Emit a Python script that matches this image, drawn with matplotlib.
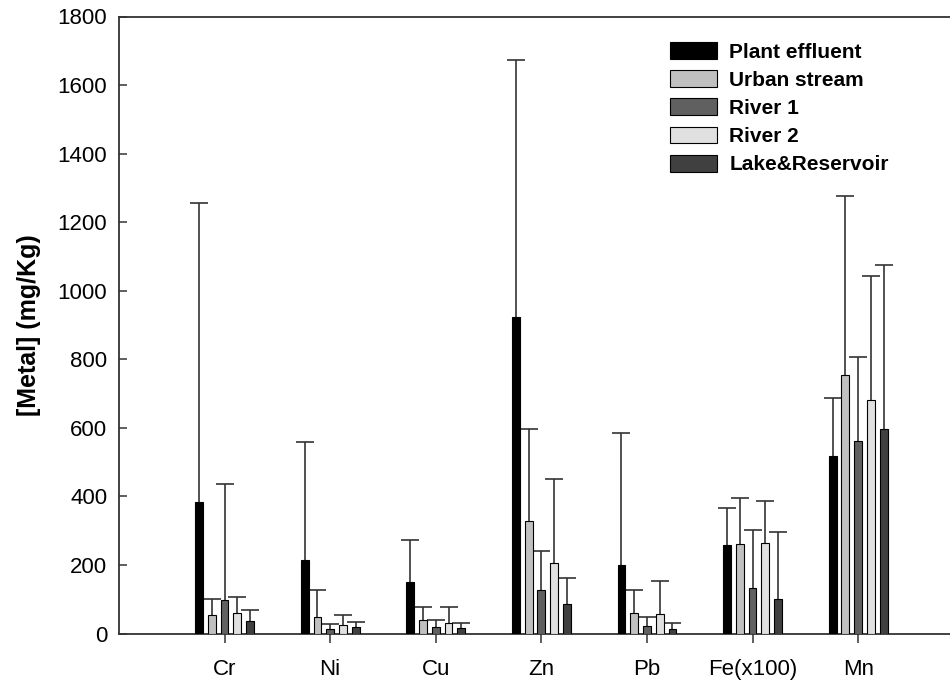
import numpy as np
import matplotlib
matplotlib.use("Agg")
import matplotlib.pyplot as plt

plt.rcParams['font.family'] = ['Liberation Sans', 'DejaVu Sans']

metals = ["Cr", "Ni", "Cu", "Zn", "Pb", "Fe(x100)", "Mn"]
sites = ["Plant effluent", "Urban stream", "River 1", "River 2", "Lake&Reservoir"]

# mean concentrations (mg/Kg) per site, in metal order
plant_mean = [385, 215, 150, 923, 200, 258, 518]
urban_mean = [53, 48, 39, 327, 59, 261, 753]
river1_mean = [97, 13, 20, 127, 21, 132, 561]
river2_mean = [59, 25, 32, 206, 56, 263, 681]
lake_mean = [37, 18, 17, 86, 14, 102, 597]

# standard deviations (upper error bars)
plant_sd = [870, 344, 123, 749, 386, 107, 168]
urban_sd = [47, 78, 37, 270, 68, 133, 522]
river1_sd = [338, 14, 18, 115, 27, 170, 245]
river2_sd = [48, 28, 44, 244, 96, 124, 361]
lake_sd = [33, 17, 14, 76, 18, 193, 479]

means = [plant_mean, urban_mean, river1_mean, river2_mean, lake_mean]
sds = [plant_sd, urban_sd, river1_sd, river2_sd, lake_sd]
colors = ["#000000", "#c0c0c0", "#606060", "#e0e0e0", "#404040"]

fig = plt.figure(figsize=(9.5, 6.84), dpi=100)
ax = fig.add_axes([119 / 950, 50.5 / 684, 831 / 950, 617 / 684])

x = np.arange(1, len(metals) + 1)
step = 0.1206
width = 0.074
for i, (m, s, c) in enumerate(zip(means, sds, colors)):
    pos = x + (i - 2) * step
    ax.bar(pos, m, width=width, color=c, edgecolor="#000000", linewidth=0.8,
           label=sites[i], zorder=3)
    eb = ax.errorbar(pos, m, yerr=[np.zeros(len(s)), s], fmt="none",
                     ecolor="#333333", elinewidth=1.2, capsize=6.5,
                     capthick=1.2, zorder=2)
    # keep only the upper cap of each one-sided error bar
    eb[1][0].remove()

ax.set_xlim(0, 7.87)
ax.set_ylim(0, 1800)
ax.set_yticks(np.arange(0, 1801, 200))
ax.set_xticks(x)
ax.set_xticklabels(metals)

ax.spines["right"].set_visible(False)
for sp in ["left", "bottom", "top"]:
    ax.spines[sp].set_linewidth(1.3)
    ax.spines[sp].set_color("#333333")

ax.tick_params(axis="y", direction="in", length=6, width=1.1, color="#333333",
               labelsize=16, pad=8.5)
ax.tick_params(axis="x", direction="out", length=6.5, width=1.1, color="#333333",
               labelsize=16, pad=12)

ax.set_ylabel("[Metal] (mg/Kg)", fontsize=18, fontweight="bold", labelpad=12)

leg = ax.legend(loc="upper left", bbox_to_anchor=(670 / 950, 1 - 42 / 684),
                bbox_transform=fig.transFigure, frameon=False,
                prop={"weight": "bold", "size": 15},
                handlelength=2.25, handleheight=0.87, handletextpad=0.6,
                labelspacing=0.41, borderpad=0, borderaxespad=0)

fig.savefig("out.png", dpi=100)
